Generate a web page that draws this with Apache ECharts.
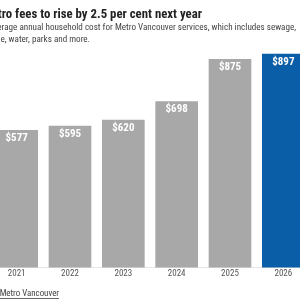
<!DOCTYPE html>
<html>
<head>
<meta charset="utf-8">
<script src="https://cdn.jsdelivr.net/npm/echarts@6/dist/echarts.min.js"></script>
<style>
  html, body { margin: 0; padding: 0; background: #fff; overflow: hidden; }
  /* the source graphic is cropped on both sides, so the canvas overhangs the window */
  #chart { width: 320px; height: 300px; margin-left: -10px; }
</style>
</head>
<body>
<div id="chart"></div>
<script>
const years = ["2021", "2022", "2023", "2024", "2025", "2026"];
const costs = [577, 595, 620, 698, 875, 897];
const titleText = "Metro fees to rise by 2.5 per cent next year";
const subLines = [
  "Average annual household cost for Metro Vancouver services, which includes sewage,",
  "garbage, water, parks and more."
];
const sourceLabel = "Source: ";
const sourceName = "Metro Vancouver";

const FONT = "'Roboto Condensed', 'Liberation Sans Narrow', 'DejaVu Sans Condensed', sans-serif";
const grey = "#a8a8a8";
const blue = "#0a5ea8";
const OFF = 10; // canvas x offset

const measure = document.createElement("canvas").getContext("2d");
function textWidth(txt, font) {
  measure.font = font;
  return measure.measureText(txt).width;
}

const srcFont = "8.9px " + FONT;
const srcNameW = textWidth(sourceName, srcFont);
const srcRight = 59 + OFF;

const chart = echarts.init(document.getElementById("chart"));
chart.setOption({
  animation: false,
  grid: { left: 0, right: 0, top: 53.7, bottom: 32.5 },
  xAxis: {
    type: "category",
    data: years,
    axisTick: { show: false },
    axisLine: { lineStyle: { color: "#e6e6e6" } },
    axisLabel: { color: "#555", fontSize: 9, fontFamily: FONT, margin: 2 }
  },
  yAxis: {
    type: "value",
    min: 0,
    max: 897,
    show: false,
    splitLine: { show: false }
  },
  series: [{
    type: "bar",
    data: costs.map((v, i) => ({
      value: v,
      itemStyle: { color: i === costs.length - 1 ? blue : grey }
    })),
    barCategoryGap: "20%",
    label: {
      show: true,
      position: "insideTop",
      distance: 3,
      color: "#fff",
      fontWeight: "bold",
      fontSize: 11,
      fontFamily: FONT,
      formatter: p => "$" + p.value
    }
  }],
  graphic: [
    {
      type: "text", x: 202 + OFF, y: 15,
      style: { text: titleText, textAlign: "right", textVerticalAlign: "middle",
        font: "bold 12.8px " + FONT, fill: "#222" }
    },
    {
      type: "text", x: 296 + OFF, y: 28,
      style: { text: subLines[0], textAlign: "right", textVerticalAlign: "middle",
        font: "9.1px " + FONT, fill: "#444" }
    },
    {
      type: "text", x: 90 + OFF, y: 39.5,
      style: { text: subLines[1], textAlign: "right", textVerticalAlign: "middle",
        font: "9.1px " + FONT, fill: "#444" }
    },
    {
      type: "text", x: srcRight - srcNameW, y: 294,
      style: { text: sourceLabel, textAlign: "right", textVerticalAlign: "middle",
        font: srcFont, fill: "#444" }
    },
    {
      type: "text", x: srcRight, y: 294,
      style: { text: sourceName, textAlign: "right", textVerticalAlign: "middle",
        font: srcFont, fill: "#444" }
    },
    {
      type: "line",
      shape: { x1: srcRight - srcNameW, y1: 298.5, x2: srcRight, y2: 298.5 },
      style: { stroke: "#444", lineWidth: 0.8 }
    }
  ]
});
</script>
</body>
</html>
